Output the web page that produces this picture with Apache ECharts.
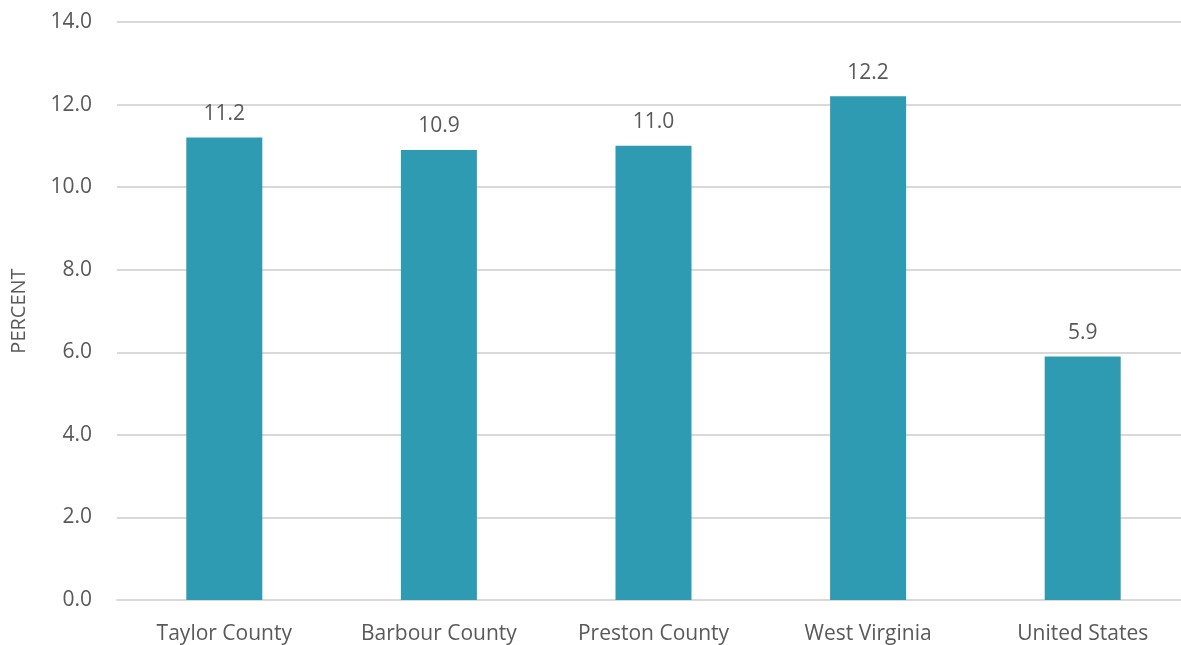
<!DOCTYPE html>
<html>
<head>
<meta charset="utf-8">
<script src="https://cdn.jsdelivr.net/npm/echarts@6/dist/echarts.min.js"></script>
<style>
  html, body { margin: 0; padding: 0; background: #fff; }
  #chart { width: 1181px; height: 645px; }
</style>
</head>
<body>
<div id="chart"></div>
<script>
// data
var categories = ['Taylor County', 'Barbour County', 'Preston County', 'West Virginia', 'United States'];
var percentValues = [11.2, 10.9, 11.0, 12.2, 5.9];
var yTicks = [0, 2, 4, 6, 8, 10, 12, 14];

var textColor = '#595959';
var fontFam = '"Open Sans", "Noto Sans", sans-serif';

var myChart = echarts.init(document.getElementById('chart'));
var option = {
    animation: false,
    grid: {
        left: 117,
        right: -9,
        top: 22,
        bottom: 45,
        containLabel: false,
        outerBoundsMode: 'none'
    },
    xAxis: {
        type: 'category',
        data: categories,
        axisLine: { lineStyle: { color: '#d9d9d9', width: 2 } },
        axisTick: { show: false },
        axisLabel: {
            color: textColor,
            fontSize: 21,
            fontFamily: fontFam,
            margin: 24
        }
    },
    yAxis: {
        type: 'value',
        min: yTicks[0],
        max: yTicks[yTicks.length - 1],
        interval: 2,
        name: 'PERCENT',
        nameLocation: 'middle',
        nameGap: 88,
        nameTextStyle: { color: textColor, fontSize: 20, fontFamily: fontFam },
        axisLine: { show: false },
        axisTick: { show: false },
        splitLine: { lineStyle: { color: '#d9d9d9', width: 2 } },
        axisLabel: {
            color: textColor,
            fontSize: 21,
            fontFamily: fontFam,
            margin: 25,
            formatter: function (v) { return v.toFixed(1); }
        }
    },
    series: [{
        type: 'bar',
        data: percentValues,
        barWidth: 76,
        itemStyle: { color: '#2e9bb2' },
        label: {
            show: true,
            position: 'top',
            distance: 13,
            color: textColor,
            fontSize: 21,
            fontFamily: fontFam,
            formatter: function (p) { return p.value.toFixed(1); }
        }
    }]
};
myChart.setOption(option);
window.addEventListener('resize', function () { myChart.resize(); });
</script>
</body>
</html>
